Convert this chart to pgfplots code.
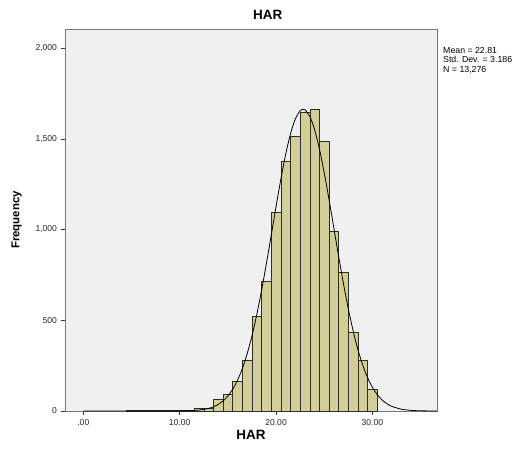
\documentclass[border=0pt]{standalone}
\usepackage{fontspec}
\setmainfont{Liberation Sans}
\usepackage{pgfplots}
\pgfplotsset{compat=1.18}
\definecolor{barfill}{RGB}{211,206,151}
\definecolor{baredge}{RGB}{45,45,40}
\definecolor{plotbg}{RGB}{240,240,240}
\definecolor{framegray}{RGB}{120,120,120}

\pgfplotstableread{
x    freq
4.5  2
5.5  3
6.5  2
7.5  2
8.5  4
9.5  5
10.5 3
11.5 15
12.5 15
13.5 65
14.5 92
15.5 162
16.5 282
17.5 520
18.5 714
19.5 1095
20.5 1376
21.5 1514
22.5 1647
23.5 1665
24.5 1487
25.5 990
26.5 763
27.5 434
28.5 282
29.5 121
30.5 0
}\hist

% fitted normal curve, mean 22.81, sd 3.186, N 13276 (bin width 1)
\pgfplotstableread{
x     f
0     0
8     0.03
10    0.5
11    1.7
12    5.3
13    14.5
13.5  23.2
14    36.3
14.5  55.4
15    82.3
15.5  119.6
16    169.4
16.5  233.9
17    315.2
17.5  414.4
18    531.6
18.5  665.8
19    813.3
19.5  969.0
20    1126.8
20.5  1278.1
21    1414.7
21.5  1527.6
22    1609.5
22.5  1654.6
22.81 1662.4
23    1659.5
23.5  1623.8
24    1550.3
24.5  1444.3
25    1312.6
25.5  1164.0
26    1007.1
26.5  850.0
27    700.2
27.5  562.6
28    441.0
28.5  337.5
29    251.9
29.5  183.4
30    130.3
30.5  90.3
31    61.1
31.5  40.3
32    25.9
33    10.0
34    3.5
35    1.1
36    0.3
36.7  0.1
}\curve

\begin{document}
\begin{tikzpicture}
\useasboundingbox (-65bp,-48bp) rectangle (461bp,411bp);
\begin{axis}[
    at={(0,0)}, anchor=south west,
    scale only axis,
    width=372bp, height=382bp,
    xmin=-1.9, xmax=36.7,
    ymin=0, ymax=2105,
    axis background/.style={fill=plotbg},
    axis line style={framegray},
    xtick={0,10,20,30},
    xticklabels={.00,10.00,20.00,30.00},
    ytick={0,500,1000,1500,2000},
    yticklabels={0,500,{1,000},{1,500},{2,000}},
    tick align=outside,
    tickwidth=4bp,
    xtick pos=bottom, ytick pos=left,
    major tick style={black!80, line width=0.5pt},
    tick label style={font=\fontsize{8.6}{10}\selectfont, text=black!85},
    xticklabel style={yshift=-1bp},
    yticklabel style={xshift=-0.5bp},
    xlabel={\textbf{HAR}},
    ylabel={\textbf{Frequency}},
    xlabel style={font=\fontsize{13.5}{15}\selectfont, yshift=2bp},
    ylabel style={font=\fontsize{11.5}{13}\selectfont, yshift=7bp},
    title={\textbf{HAR}},
    title style={font=\fontsize{13.5}{15}\selectfont, at={(rel axis cs:0.545,1)}, yshift=0bp},
    clip=false,
]
\addplot[ybar interval, fill=barfill, draw=baredge, line width=0.5pt] table[x=x, y=freq] {\hist};
\addplot[black, line width=0.8pt, smooth, no marks] table[x=x, y=f] {\curve};
\node[anchor=north west, align=left, inner sep=0pt,
      font=\fontsize{8.8}{9.6}\selectfont]
  at (rel axis cs:1,1) [xshift=6bp, yshift=-18bp]
  {Mean = 22.81\\Std. Dev. = 3.186\\N = 13,276};
\end{axis}
\end{tikzpicture}
\end{document}
